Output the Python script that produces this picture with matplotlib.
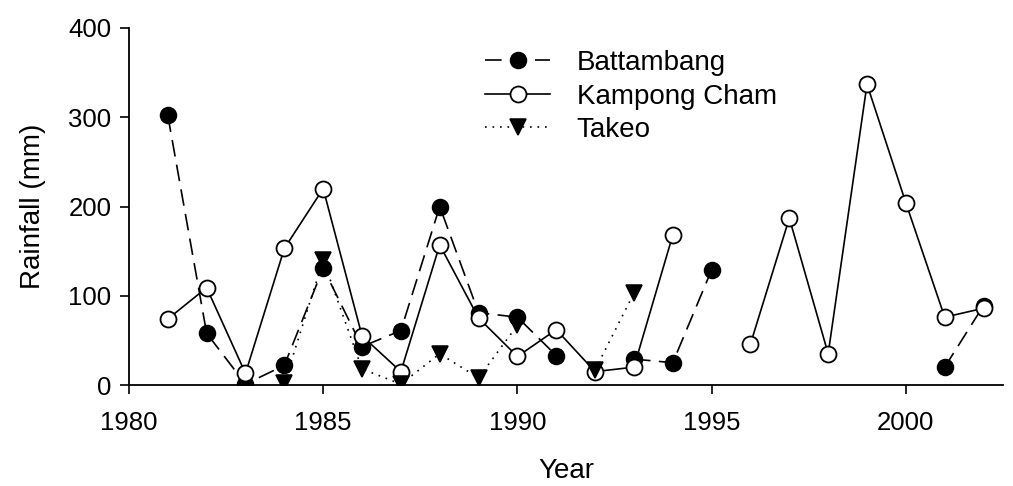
import matplotlib
matplotlib.use("Agg")
import matplotlib.pyplot as plt
import numpy as np

plt.rcParams["font.family"] = ["Liberation Sans", "DejaVu Sans"]

nan = np.nan
years = np.arange(1981, 2003)

# rainfall (mm), NaN = no data
battambang = [302, 58, 1, 22, 131, 43, 61, 200, 81, 76, 33, nan, 29, 25, 129,
              nan, nan, nan, nan, nan, 20, 89]
kampong_cham = [74, 109, 13, 153, 220, 55, 15, 157, 75, 32, 62, 15, 20, 168, nan,
                46, 187, 35, 337, 204, 76, 86]
takeo = [nan, nan, nan, 2, 140, 18, 1, 35, 8, 67, nan, 17, 103, nan, nan,
         nan, nan, nan, nan, nan, nan, nan]

x_ticks = [1980, 1985, 1990, 1995, 2000]
y_ticks = [0, 100, 200, 300, 400]

fig = plt.figure(figsize=(10.13, 4.86), dpi=100)
ax = fig.add_axes([0.1273, 0.2078, 0.8628, 0.7346])

ms = 11.5
ax.plot(years, battambang, color="black", lw=1.2, dashes=(10, 5),
        marker="o", ms=ms, mfc="black", mec="black", mew=1.1, label="Battambang")
ax.plot(years, kampong_cham, color="black", lw=1.2, ls="-",
        marker="o", ms=ms, mfc="white", mec="black", mew=1.3, label="Kampong Cham")
ax.plot(years, takeo, color="black", lw=1.2, dashes=(1, 3.5),
        marker="v", ms=ms, mfc="black", mec="black", mew=1.1, label="Takeo")

ax.set_xlim(1980, 2002.5)
ax.set_ylim(0, 400)
ax.set_xticks(x_ticks)
ax.set_yticks(y_ticks)

for side in ["top", "right"]:
    ax.spines[side].set_visible(False)
for side in ["left", "bottom"]:
    ax.spines[side].set_linewidth(1.3)

ax.tick_params(axis="both", direction="out", length=6.5, width=1.2, labelsize=18.5)
ax.tick_params(axis="x", pad=12)
ax.tick_params(axis="y", pad=6)

ax.set_xlabel("Year", fontsize=20, labelpad=17)
ax.set_ylabel("Rainfall (mm)", fontsize=20, labelpad=16)

ax.legend(loc="upper left", bbox_to_anchor=(485 / 1013, 1 - 50 / 486),
          bbox_transform=fig.transFigure, frameon=False, fontsize=20,
          borderpad=0, handlelength=2.35, handletextpad=0.95, labelspacing=0.27,
          borderaxespad=0)

fig.savefig("out.png", dpi=100)
